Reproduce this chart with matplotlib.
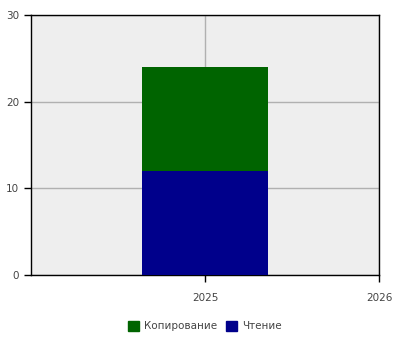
import matplotlib
matplotlib.use("Agg")
import matplotlib.pyplot as plt
from matplotlib.patches import Patch

years = [2025]
reading = [12]
copying = [12]
xticks = [2025, 2026]
yticks = [0, 10, 20, 30]

plt.rcParams["font.family"] = ["DejaVu Sans"]
plt.rcParams["font.size"] = 7.5

fig = plt.figure(figsize=(4, 3.5), dpi=100)
ax = fig.add_axes([31 / 400, 1 - 275 / 350, 348 / 400, 260 / 350])
ax.set_facecolor("#eeeeee")

ax.bar(years, reading, width=0.72, color="#00008b", zorder=3)
ax.bar(years, copying, width=0.72, bottom=reading, color="#006400", zorder=3)

ax.set_xlim(2024, 2026)
ax.set_ylim(0, 30)
ax.set_xticks(xticks)
ax.set_xticklabels([str(x) for x in xticks])
ax.set_yticks(yticks)
ax.grid(True, color="#b0b0b0", linewidth=1, zorder=0)
ax.tick_params(colors="black", labelcolor="#444444", length=5, width=1)
ax.tick_params(axis="x", pad=8)
for s in ax.spines.values():
    s.set_color("black")
    s.set_linewidth(1)

handles = [Patch(color="#006400", label="Копирование"),
           Patch(color="#00008b", label="Чтение")]
fig.legend(handles=handles, loc="center", bbox_to_anchor=(205 / 400, 1 - 326 / 350),
           ncol=2, frameon=False, handlelength=1.1, handleheight=1.1,
           handletextpad=0.5, columnspacing=0.8, labelcolor="#444444")

fig.savefig("out.png", dpi=100)
